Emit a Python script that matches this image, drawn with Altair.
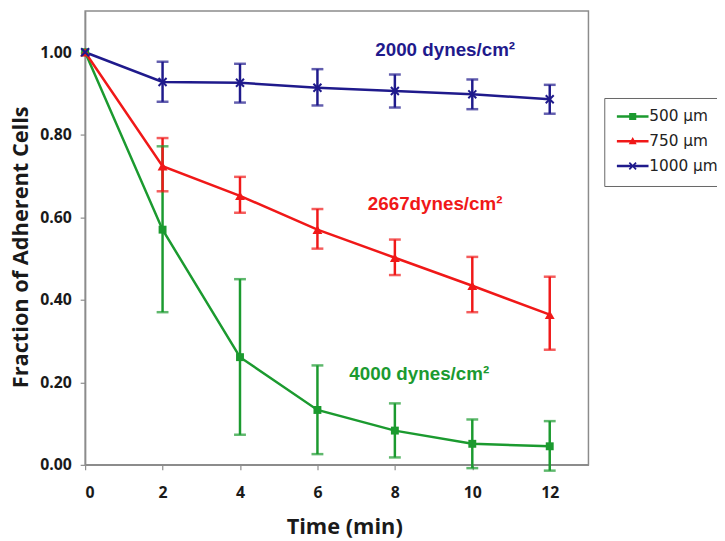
import altair as alt
import pandas as pd

# ---------------- data ----------------
times = [0, 2, 4, 6, 8, 10, 12]
series_names = ["500 µm", "750 µm", "1000 µm"]
series_colors = ["#1b9a2f", "#f01818", "#1f1a8c"]

mean_500 = [1.00, 0.570, 0.261, 0.133, 0.083, 0.051, 0.045]
mean_750 = [1.00, 0.724, 0.652, 0.570, 0.502, 0.434, 0.364]
mean_1000 = [1.00, 0.928, 0.926, 0.914, 0.906, 0.898, 0.886]

err_times = [2, 4, 6, 8, 10, 12]
hi_500 = [0.772, 0.450, 0.241, 0.149, 0.110, 0.106]
lo_500 = [0.370, 0.073, 0.026, 0.018, -0.008, -0.014]
hi_750 = [0.792, 0.698, 0.620, 0.546, 0.504, 0.456]
lo_750 = [0.663, 0.611, 0.524, 0.460, 0.370, 0.279]
hi_1000 = [0.977, 0.972, 0.959, 0.946, 0.934, 0.921]
lo_1000 = [0.880, 0.878, 0.871, 0.866, 0.862, 0.851]

ann_text = ["2000 dynes/cm²", "2667dynes/cm²", "4000 dynes/cm²"]
ann_series = ["1000 µm", "750 µm", "500 µm"]
ann_x = [9.3, 9.04, 8.63]
ann_y = [1.005, 0.633, 0.221]

x_ticks = [0, 2, 4, 6, 8, 10, 12]
y_ticks = [0.0, 0.2, 0.4, 0.6, 0.8, 1.0]

# ---------------- tables ----------------
means = {"500 µm": mean_500, "750 µm": mean_750, "1000 µm": mean_1000}
his = {"500 µm": hi_500, "750 µm": hi_750, "1000 µm": hi_1000}
los = {"500 µm": lo_500, "750 µm": lo_750, "1000 µm": lo_1000}

line_df = pd.DataFrame(
    [{"t": t, "v": v, "series": s} for s in series_names for t, v in zip(times, means[s])]
)
err_df = pd.DataFrame(
    [{"t": t, "hi": h, "lo": l, "series": s}
     for s in series_names for t, h, l in zip(err_times, his[s], los[s])]
)
ann_df = pd.DataFrame({"x": ann_x, "y": ann_y, "text": ann_text, "series": ann_series})

color_scale = alt.Scale(domain=series_names, range=series_colors)
xs = alt.Scale(domain=[0, 13], nice=False, zero=False)
ys = alt.Scale(domain=[0, 1.1], nice=False)

x_axis = alt.Axis(values=x_ticks, format="d", labelPadding=15, titlePadding=16,
                  titleX=262, titleAlign="center")
y_axis = alt.Axis(values=y_ticks, format=".2f", labelPadding=9, titlePadding=7,
                  titleY=238.5, titleAlign="center")


def X(field):
    return alt.X(field, scale=xs, title="Time (min)", axis=x_axis)


def Y(field):
    return alt.Y(field, scale=ys, title="Fraction of Adherent Cells", axis=y_axis)


color_nolegend = alt.Color("series:N", scale=color_scale, legend=None)

lines = alt.Chart(line_df).mark_line(strokeWidth=2.5).encode(
    x=X("t:Q"), y=Y("v:Q"), color=color_nolegend, order="t:Q",
)

rules = alt.Chart(err_df).mark_rule(strokeWidth=2.5).encode(
    x=X("t:Q"), y=Y("lo:Q"), y2="hi:Q", color=color_nolegend,
)
cap_hi = alt.Chart(err_df).mark_tick(orient="horizontal", size=12, thickness=2.5).encode(
    x=X("t:Q"), y=Y("hi:Q"), color=color_nolegend,
)
cap_lo = alt.Chart(err_df).mark_tick(orient="horizontal", size=12, thickness=2.5).encode(
    x=X("t:Q"), y=Y("lo:Q"), color=color_nolegend,
)

X_PATH = "M-1,-0.7L-0.7,-1L1,0.7L0.7,1Z M0.7,-1L1,-0.7L-0.7,1L-1,0.7Z"


def pts(name, shape, size):
    return alt.Chart(line_df).transform_filter(alt.datum.series == name).mark_point(
        filled=True, shape=shape, size=size, opacity=1
    ).encode(x=X("t:Q"), y=Y("v:Q"), color=color_nolegend)


p500 = pts("500 µm", "square", 64)
p750 = pts("750 µm", "triangle-up", 100)
p1000 = pts("1000 µm", X_PATH, 90)

ann = alt.Chart(ann_df).mark_text(
    font="Liberation Sans", fontWeight="bold", fontSize=19, align="center", baseline="middle"
).encode(x=X("x:Q"), y=Y("y:Q"), text="text:N", color=color_nolegend)

legend_paths = [
    "M-4,-0.3H4V0.3H-4Z M-0.9,-0.9H0.9V0.9H-0.9Z",
    "M-4,-0.3H4V0.3H-4Z M0,-1.1L1,0.75H-1Z",
    "M-4,-0.3H4V0.3H-4Z M-1,-0.7L-0.7,-1L1,0.7L0.7,1Z M0.7,-1L1,-0.7L-0.7,1L-1,0.7Z",
]
leg = alt.Legend(
    title=None, orient="none", legendX=525, legendY=88,
    strokeColor="#666666", fillColor="white", padding=11,
    symbolSize=64, symbolOffset=10, symbolOpacity=1, symbolStrokeWidth=0,
    labelOffset=9, labelFont="DejaVu Sans", labelFontSize=15.5, labelColor="#222222",
    rowPadding=8,
)
legend_layer = alt.Chart(line_df).mark_point(filled=True, opacity=0).encode(
    x=X("t:Q"), y=Y("v:Q"),
    color=alt.Color("series:N", scale=color_scale, legend=leg),
    shape=alt.Shape("series:N", scale=alt.Scale(domain=series_names, range=legend_paths), legend=leg),
)

chart = alt.layer(
    rules, cap_hi, cap_lo, lines, p500, p750, p1000, ann, legend_layer
).resolve_legend(
    color="independent", shape="independent"
).properties(
    width=509, height=459,
    autosize=alt.AutoSizeParams(type="none"),
    padding={"left": 78, "top": 0, "right": 130, "bottom": 74},
).configure_view(
    stroke="#8c8c8c", strokeWidth=1.5
).configure_axis(
    grid=False, domainColor="#8c8c8c", domainWidth=1.5, tickColor="#8c8c8c", tickWidth=1.2,
    tickSize=5, labelFont="Open Sans", labelFontWeight="bold", labelFontSize=16,
    labelColor="#1a1a1a", titleFont="Open Sans", titleFontWeight="bold", titleFontSize=22,
    titleColor="#1a1a1a",
)

chart.save("out.html", embed_options={"renderer": "svg", "actions": False})
